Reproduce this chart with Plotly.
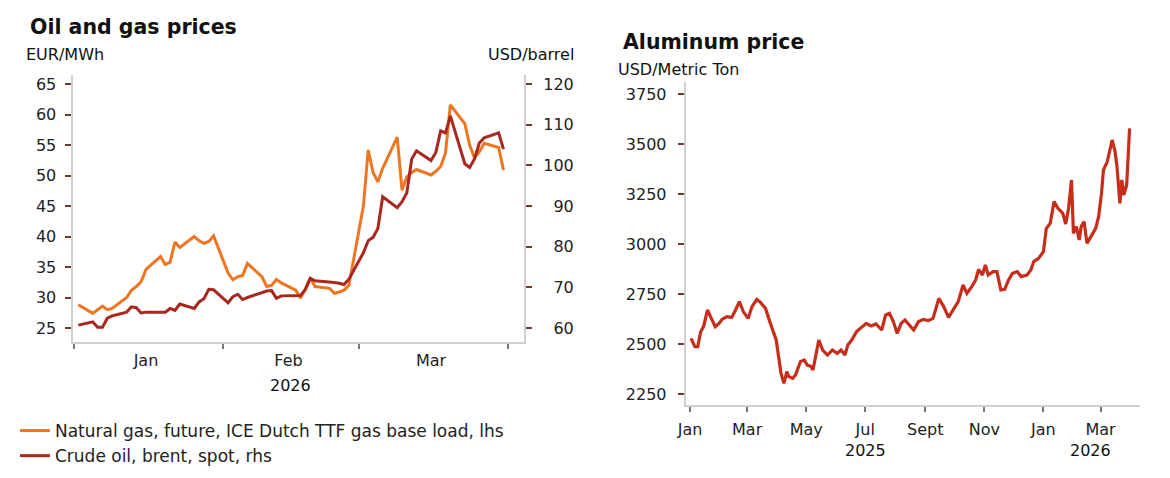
import pandas as pd
import plotly.graph_objects as go

# ------------------------------------------------------------------
# data – left panel: oil & gas (business days Jan 2 - Mar 31 2026)
# ------------------------------------------------------------------
oil_gas_dates = pd.bdate_range("2026-01-02", "2026-03-31")

gas_ttf = [
    # Jan
    28.8, 27.4, 28.0, 28.6, 28.0, 28.2, 30.0, 31.2, 31.8, 32.6, 34.6,
    36.7, 35.4, 35.8, 39.1, 38.2, 40.0, 39.3, 38.9, 39.2, 40.1,
    # Feb
    34.0, 32.9, 33.4, 33.6, 35.6, 33.4, 31.8, 32.0, 33.0, 32.4,
    31.2, 29.9, 31.4, 33.2, 31.8, 31.5, 30.7, 30.9, 31.2, 32.0,
    # Mar
    45.0, 54.2, 50.5, 49.0, 51.2, 56.3, 47.6, 49.8, 50.5, 51.0, 50.1,
    50.7, 51.5, 53.7, 61.6, 58.5, 55.0, 52.9, 53.9, 55.3, 54.6, 50.9,
]

brent = [
    # Jan
    60.7, 61.5, 60.2, 60.2, 62.4, 63.0, 63.9, 65.2, 65.0, 63.7, 63.9,
    63.9, 63.9, 64.8, 64.3, 65.9, 64.8, 66.4, 67.2, 69.5, 69.4,
    # Feb
    66.2, 67.7, 68.3, 67.0, 67.5, 68.8, 69.1, 69.2, 67.3, 67.9,
    68.1, 68.0, 69.5, 72.2, 71.6, 71.4, 71.2, 71.0, 70.7, 72.0,
    # Mar
    78.5, 81.5, 82.3, 84.5, 92.3, 89.6, 91.1, 93.3, 101.6, 103.6, 101.2,
    103.2, 108.5, 108.0, 112.2, 100.4, 99.5, 101.6, 105.5, 106.8, 108.0, 104.0,
]

# ------------------------------------------------------------------
# data – right panel: aluminum (USD/t)
# ------------------------------------------------------------------
alu_dates = [
    "2025-01-02", "2025-01-06", "2025-01-09", "2025-01-12", "2025-01-15",
    "2025-01-19", "2025-01-23", "2025-01-27", "2025-01-31", "2025-02-03",
    "2025-02-08", "2025-02-13", "2025-02-17", "2025-02-21", "2025-02-25",
    "2025-03-02", "2025-03-06", "2025-03-11", "2025-03-15", "2025-03-20",
    "2025-03-25", "2025-03-31", "2025-04-05", "2025-04-08", "2025-04-11",
    "2025-04-13", "2025-04-17", "2025-04-20", "2025-04-25", "2025-04-29",
    "2025-05-02", "2025-05-06", "2025-05-08", "2025-05-14", "2025-05-18",
    "2025-05-23", "2025-05-28", "2025-06-02", "2025-06-06", "2025-06-10",
    "2025-06-13", "2025-06-17", "2025-06-22", "2025-06-26", "2025-07-02",
    "2025-07-07", "2025-07-12", "2025-07-18", "2025-07-22", "2025-07-26",
    "2025-07-30", "2025-08-03", "2025-08-07", "2025-08-11", "2025-08-15",
    "2025-08-20", "2025-08-25", "2025-08-30", "2025-09-04", "2025-09-09",
    "2025-09-15", "2025-09-20", "2025-09-25", "2025-09-30", "2025-10-05",
    "2025-10-10", "2025-10-14", "2025-10-19", "2025-10-23", "2025-10-26",
    "2025-10-30", "2025-11-02", "2025-11-05", "2025-11-10", "2025-11-14",
    "2025-11-18", "2025-11-22", "2025-11-26", "2025-11-30", "2025-12-05",
    "2025-12-09", "2025-12-15", "2025-12-19", "2025-12-22", "2025-12-27",
    "2026-01-01", "2026-01-04", "2026-01-08", "2026-01-12", "2026-01-16",
    "2026-01-21", "2026-01-24", "2026-01-27", "2026-01-30", "2026-02-01",
    "2026-02-04", "2026-02-07", "2026-02-09", "2026-02-12", "2026-02-15",
    "2026-02-19", "2026-02-24", "2026-02-27", "2026-03-02", "2026-03-04",
    "2026-03-08", "2026-03-13", "2026-03-16", "2026-03-18", "2026-03-21",
    "2026-03-23", "2026-03-25", "2026-03-28", "2026-03-31",
]
alu_price = [
    2528, 2487, 2487, 2561, 2587, 2670, 2628, 2587, 2603, 2623,
    2637, 2633, 2670, 2712, 2662, 2628, 2687, 2723, 2707, 2678,
    2603, 2520, 2353, 2303, 2362, 2337, 2328, 2345, 2412, 2420,
    2395, 2387, 2370, 2520, 2470, 2445, 2470, 2453, 2470, 2445,
    2495, 2520, 2562, 2578, 2603, 2590, 2600, 2570, 2645, 2653,
    2612, 2553, 2603, 2620, 2595, 2570, 2612, 2623, 2617, 2628,
    2728, 2687, 2633, 2670, 2712, 2795, 2753, 2787, 2820, 2873,
    2845, 2895, 2845, 2862, 2862, 2770, 2773, 2820, 2853, 2862,
    2837, 2845, 2870, 2912, 2928, 2962, 3078, 3103, 3212, 3178,
    3153, 3100, 3178, 3320, 3053, 3087, 3020, 3087, 3112, 3003,
    3037, 3078, 3137, 3253, 3370, 3412, 3520, 3462, 3387, 3203,
    3320, 3245, 3295, 3578,
]

# tick labels
left_ticks_lhs = [25, 30, 35, 40, 45, 50, 55, 60, 65]
left_ticks_rhs = [60, 70, 80, 90, 100, 110, 120]
left_month_starts = ["2026-01-01", "2026-02-01", "2026-03-01", "2026-04-01"]
left_month_mids = ["2026-01-16", "2026-02-14 12:00", "2026-03-16"]
left_month_labels = ["Jan", "Feb", "Mar"]

alu_ticks_y = [2250, 2500, 2750, 3000, 3250, 3500, 3750]
alu_ticks_x = ["2025-01-01", "2025-03-01", "2025-05-01", "2025-07-01",
               "2025-09-01", "2025-11-01", "2026-01-01", "2026-03-01"]
alu_ticks_x_labels = ["Jan", "Mar", "May", "Jul", "Sept", "Nov", "Jan", "Mar"]

# ------------------------------------------------------------------
# styles
# ------------------------------------------------------------------
W, H = 1170, 478
FONT = "DejaVu Sans"
TXT = "#222222"
AXLINE = "#cfcfcf"
TICKC = "#6e3a30"
GAS_C = "#ee7623"
OIL_C = "#a9281e"
ALU_C = "#c62d1a"


def px(x):
    return x / W


def py(y):
    return 1 - y / H


fig = go.Figure()

fig.add_trace(go.Scatter(
    x=oil_gas_dates, y=gas_ttf, mode="lines", xaxis="x", yaxis="y",
    line=dict(color=GAS_C, width=3),
    name="Natural gas, future, ICE Dutch TTF gas base load, lhs",
))
fig.add_trace(go.Scatter(
    x=oil_gas_dates, y=brent, mode="lines", xaxis="x", yaxis="y2",
    line=dict(color=OIL_C, width=3),
    name="Crude oil, brent, spot, rhs",
))
fig.add_trace(go.Scatter(
    x=alu_dates, y=alu_price, mode="lines", xaxis="x2", yaxis="y3",
    line=dict(color=ALU_C, width=3.2),
    name="Aluminum", showlegend=False,
))

tickfont = dict(family=FONT, size=16, color=TXT)

fig.update_layout(
    width=W, height=H, autosize=False,
    margin=dict(l=0, r=0, t=0, b=0),
    paper_bgcolor="white", plot_bgcolor="white",
    font=dict(family=FONT, size=16, color=TXT),
    # ---- left panel
    xaxis=dict(
        domain=[px(64), px(519)], anchor="y", type="date",
        range=["2025-12-31 19:00", "2026-04-04 06:00"],
        tickmode="array", tickvals=left_month_mids, ticktext=left_month_labels,
        ticks="", showgrid=False, zeroline=False,
        showline=True, linecolor=AXLINE, linewidth=2,
        tickfont=tickfont, ticklabelstandoff=3,
        minor=dict(tickmode="array", tickvals=left_month_starts,
                   ticks="outside", ticklen=5, tickwidth=1.5,
                   tickcolor="#777777", showgrid=False),
    ),
    yaxis=dict(
        domain=[py(342), py(75)], anchor="x",
        range=[22.7, 66.5], tickvals=left_ticks_lhs,
        ticks="outside", ticklen=6, tickwidth=1.5, tickcolor=TICKC,
        showline=True, linecolor=AXLINE, linewidth=2,
        showgrid=False, zeroline=False, tickfont=tickfont,
        ticklabelstandoff=5,
    ),
    yaxis2=dict(
        overlaying="y", side="right", anchor="x",
        range=[56.55, 122.25], tickvals=left_ticks_rhs,
        ticktext=[("\u2007" + str(v)) if v < 100 else str(v) for v in left_ticks_rhs],
        ticks="outside", ticklen=6, tickwidth=1.5, tickcolor=TICKC,
        showline=True, linecolor=AXLINE, linewidth=2,
        showgrid=False, zeroline=False, tickfont=tickfont,
        ticklabelstandoff=8,
    ),
    # ---- right panel
    xaxis2=dict(
        domain=[px(682), px(1140)], anchor="y3", type="date",
        range=["2024-12-27 14:00", "2026-04-11"],
        tickmode="array", tickvals=alu_ticks_x, ticktext=alu_ticks_x_labels,
        ticks="outside", ticklen=5, tickwidth=1.5, tickcolor="#777777",
        showline=True, linecolor=AXLINE, linewidth=2,
        showgrid=False, zeroline=False, tickfont=tickfont,
        ticklabelstandoff=4,
    ),
    yaxis3=dict(
        domain=[py(405), py(82)], anchor="x2",
        range=[2195, 3810], tickvals=alu_ticks_y,
        ticks="outside", ticklen=6, tickwidth=1.5, tickcolor=TICKC,
        showline=True, linecolor=AXLINE, linewidth=2,
        showgrid=False, zeroline=False, tickfont=tickfont,
        ticklabelstandoff=8,
    ),
    legend=dict(
        x=px(6), y=py(413), xanchor="left", yanchor="top",
        font=dict(family=FONT, size=17, color=TXT),
        itemwidth=30, bgcolor="rgba(0,0,0,0)", tracegroupgap=0,
    ),
    showlegend=True,
)

# titles, units and year labels
texts = [
    dict(text="<b>Oil and gas prices</b>", x=px(19), y=py(27), xanchor="left", size=20.5),
    dict(text="EUR/MWh", x=px(15), y=py(54), xanchor="left", size=16),
    dict(text="USD/barrel", x=px(571), y=py(54), xanchor="right", size=16),
    dict(text="<b>Aluminum price</b>", x=px(617), y=py(42), xanchor="left", size=20.5),
    dict(text="USD/Metric Ton", x=px(612), y=py(69), xanchor="left", size=16),
    dict(text="2026", x=px(284), y=py(385), xanchor="center", size=16),
    dict(text="2025", x=px(863), y=py(450), xanchor="center", size=16),
    dict(text="2026", x=px(1090), y=py(450), xanchor="center", size=16),
]
for t in texts:
    fig.add_annotation(
        text=t["text"], x=t["x"], y=t["y"], xref="paper", yref="paper",
        xanchor=t["xanchor"], yanchor="middle", showarrow=False,
        font=dict(family=FONT, size=t["size"], color="#111111"),
    )

fig.write_html(
    "out.html",
    config={"displayModeBar": False},
    post_script="document.body.style.margin='0';document.body.style.overflow='hidden';",
)
